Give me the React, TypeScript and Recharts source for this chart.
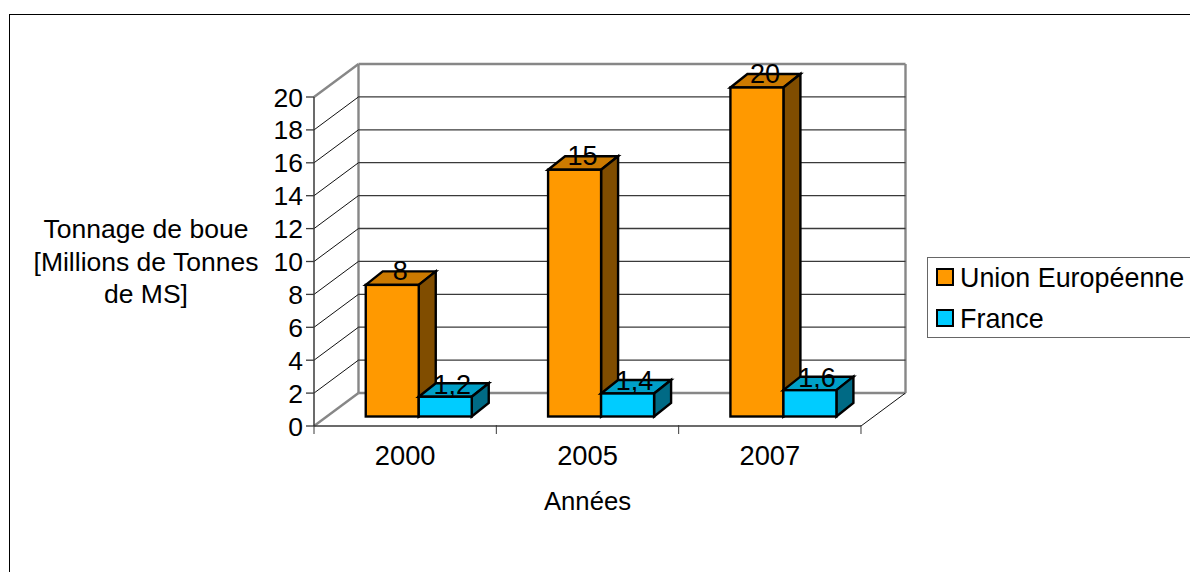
import React from "react";
import { BarChart, Bar, XAxis, YAxis, CartesianGrid, Legend, LabelList } from "recharts";

const categories = ["2000", "2005", "2007"];
const unionEuropeenne = [8, 15, 20];
const france = [1.2, 1.4, 1.6];
const yTicks = [0, 2, 4, 6, 8, 10, 12, 14, 16, 18, 20];
const yTitleLines = ["Tonnage de boue", "[Millions de Tonnes", "de MS]"];
const data = categories.map((c, i) => ({ year: c, ue: unionEuropeenne[i], fr: france[i] }));

const FONT = "'Liberation Sans', Arial, sans-serif";
const WALL_DX = 44.5;
const WALL_DY = -33;
const BAR_SHIFT_X = 13.75;
const BAR_SHIFT_Y = -9.5;
const BAR_DX = 17;
const BAR_DY = -13.5;
const GREY = "#878787";
const DARK = "#3a3a3a";

function bar3d(topColor: string, sideColor: string) {
  return (p: any) => {
    const x = p.x + BAR_SHIFT_X;
    const y = p.y + BAR_SHIFT_Y;
    const w = p.width;
    const h = p.height;
    const common = { stroke: "#000", strokeWidth: 2.4, strokeLinejoin: "miter" as const };
    return (
      <g>
        <polygon {...common} fill={topColor} points={`${x},${y} ${x + BAR_DX},${y + BAR_DY} ${x + w + BAR_DX},${y + BAR_DY} ${x + w},${y}`} />
        <polygon {...common} fill={sideColor} points={`${x + w},${y} ${x + w + BAR_DX},${y + BAR_DY} ${x + w + BAR_DX},${y + h + BAR_DY} ${x + w},${y + h}`} />
        <rect {...common} fill={p.fill} x={x} y={y} width={w} height={h} />
      </g>
    );
  };
}

function gridLine(p: any) {
  const { x1, y1, x2 } = p;
  const isTop = Math.abs(y1 - p.y) < 0.5;
  const isBottom = Math.abs(y1 - (p.y + p.height)) < 0.5;
  const edge = isTop || isBottom;
  return (
    <g key={p.key ?? y1}>
      <line x1={x1 + WALL_DX} y1={y1 + WALL_DY} x2={x2 + WALL_DX} y2={y1 + WALL_DY} stroke={edge ? GREY : DARK} strokeWidth={edge ? 2.4 : 1.3} />
      <line x1={x1} y1={y1} x2={x1 + WALL_DX} y2={y1 + WALL_DY} stroke={edge ? GREY : "#111"} strokeWidth={edge ? 2.4 : 1} />
      {isBottom && (
        <>
          <line x1={x2} y1={y1} x2={x2 + WALL_DX} y2={y1 + WALL_DY} stroke="#111" strokeWidth={1} />
          <line x1={x1 + WALL_DX} y1={p.y + WALL_DY} x2={x1 + WALL_DX} y2={y1 + WALL_DY} stroke={GREY} strokeWidth={2.4} />
          <line x1={x2 + WALL_DX} y1={p.y + WALL_DY} x2={x2 + WALL_DX} y2={y1 + WALL_DY} stroke={GREY} strokeWidth={2.4} />
        </>
      )}
    </g>
  );
}

function XTick(p: any) {
  const half = 182.33 / 2;
  const isLast = p.index === categories.length - 1;
  return (
    <g>
      <line x1={p.x - half} y1={p.y - 9} x2={p.x - half} y2={p.y} stroke={DARK} strokeWidth={1} />
      {isLast && <line x1={p.x + half} y1={p.y - 9} x2={p.x + half} y2={p.y} stroke={DARK} strokeWidth={1} />}
      <text x={p.x} y={p.y + 31} textAnchor="middle" fontSize={27.3} fontFamily={FONT} fill="#000">
        {p.payload.value}
      </text>
    </g>
  );
}

function YTick(p: any) {
  return (
    <text x={303} y={p.y + 9.5} textAnchor="end" fontSize={26.5} fontFamily={FONT} fill="#000">
      {p.payload.value}
    </text>
  );
}

function labelFor(offsetX: number, offsetY: number) {
  return (p: any) => (
    <text
      x={p.x + BAR_SHIFT_X + p.width / 2 + offsetX}
      y={p.y + BAR_SHIFT_Y + offsetY}
      textAnchor="middle"
      fontSize={27}
      fontFamily={FONT}
      fill="#000"
    >
      {String(p.value).replace(".", ",")}
    </text>
  );
}

function LegendBox(p: any) {
  return (
    <div
      style={{
        width: 270,
        height: 81,
        boxSizing: "border-box",
        border: "1px solid #666",
        background: "#fff",
        position: "relative",
        fontFamily: FONT,
        fontSize: 26.9,
        color: "#000",
      }}
    >
      {(p.payload || []).map((e: any, i: number) => (
        <div key={e.value} style={{ position: "absolute", left: 8, top: 10 + i * 41, height: 20, whiteSpace: "nowrap" }}>
          <span style={{ position: "absolute", left: 0, top: 0, width: 18, height: 18, boxSizing: "border-box", background: e.color, border: "2px solid #000" }} />
          <span style={{ position: "absolute", left: 24, top: -5, lineHeight: "30px" }}>{e.value}</span>
        </div>
      ))}
    </div>
  );
}

export default function App() {
  return (
    <div style={{ position: "absolute", left: 0, top: 0, width: 1190, height: 572, overflow: "hidden", background: "#fff" }}>
      <div style={{ position: "absolute", left: 9, top: 14, width: 1300, height: 700, border: "1px solid #000" }} />
      <div style={{ position: "absolute", left: 0, top: 0 }}>
        <BarChart
          width={1190}
          height={572}
          data={data}
          barSize={53}
          barGap={0}
          margin={{ top: 97, right: 59, bottom: 46, left: 0 }}
        >
          <CartesianGrid vertical={false} horizontal={gridLine as any} />
          <XAxis
            dataKey="year"
            height={100}
            tick={XTick as any}
            tickLine={false}
            axisLine={{ stroke: DARK, strokeWidth: 1.5 }}
            interval={0}
            label={{
              content: () => (
                <text x={587.5} y={510} textAnchor="middle" fontSize={25.7} fontFamily={FONT} fill="#000">
                  Années
                </text>
              ),
            }}
          />
          <YAxis
            width={314}
            domain={[0, 20]}
            ticks={yTicks}
            interval={0}
            tick={YTick as any}
            tickSize={8}
            tickLine={{ stroke: DARK, strokeWidth: 1.3 }}
            axisLine={{ stroke: DARK, strokeWidth: 1.5 }}
            label={{
              content: () => (
                <text textAnchor="middle" fontSize={26.5} fontFamily={FONT} fill="#000">
                  {yTitleLines.map((t, i) => (
                    <tspan key={t} x={146} y={238 + i * 32.5}>
                      {t}
                    </tspan>
                  ))}
                </text>
              ),
            }}
          />
          <Legend
            layout="vertical"
            align="right"
            verticalAlign="middle"
            itemSorter={null}
            content={LegendBox as any}
            wrapperStyle={{ left: 927, right: "auto", top: 257, width: 270 }}
          />
          <Bar dataKey="ue" name="Union Européenne" fill="#FF9900" isAnimationActive={false} shape={bar3d("#CC7A00", "#804D00") as any}>
            <LabelList dataKey="ue" content={labelFor(8, -5) as any} />
          </Bar>
          <Bar dataKey="fr" name="France" fill="#00CCFF" isAnimationActive={false} shape={bar3d("#009FC7", "#006A85") as any}>
            <LabelList dataKey="fr" content={labelFor(7, -3) as any} />
          </Bar>
        </BarChart>
      </div>
    </div>
  );
}
